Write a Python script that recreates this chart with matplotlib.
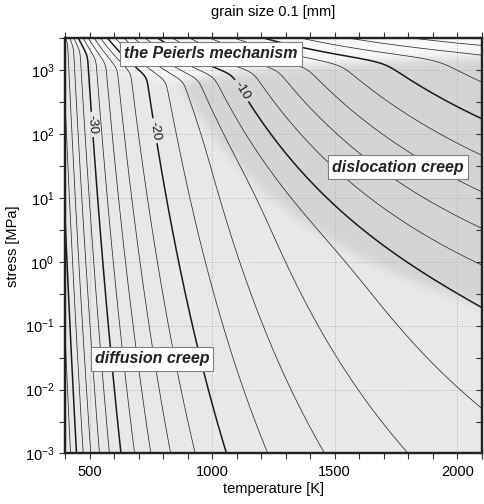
import numpy as np
import matplotlib
matplotlib.use("Agg")
import matplotlib.pyplot as plt
from matplotlib.ticker import FixedLocator, NullFormatter

plt.rcParams.update({
    "font.family": ["Liberation Sans", "DejaVu Sans"],
    "mathtext.fontset": "custom",
    "mathtext.rm": "Liberation Sans",
    "mathtext.it": "Liberation Sans:italic",
    "font.size": 10,
    "contour.negative_linestyle": "solid",
})

# temperature [K] and stress [MPa] range of the map
T_MIN, T_MAX = 400.0, 2100.0
LOGS_MIN, LOGS_MAX = -3.0, 3.5
GRAIN_SIZE_MM = 0.1

# flow laws log10(eps) = logA + n*log10(sigma) - E/(RT ln10)
# strain rate in 1/s, stress in MPa, activation energies in kJ/mol
# (grain size is folded into the diffusion prefactor, low-T plasticity
#  written as a high-exponent power law)
R = 8.314e-3
MECH_LOGA = [-2.14, 5.35, -31.03]     # diffusion, dislocation, Peierls
MECH_N = [1.1, 3.5, 14.0]
MECH_E = [295.0, 530.0, 416.0]

# log10 strain-rate contours, bold every 10
LEVELS = np.arange(-50, 14, 2)
LABELED = [-30, -20, -10]
LABEL_POS = [(512, 10**2.15), (766, 10**2.05), (1113, 10**2.66)]

# grey for the dominant mechanism: diffusion, dislocation, Peierls
SHADES = [0.912, 0.835, 0.972]

REGION_TEXT = ["diffusion creep", "dislocation creep", "the Peierls mechanism"]
REGION_POS = [(754, 10**-1.52), (1758, 10**1.48), (995, 10**3.25)]


def log_rates(T, logs):
    k = 1.0 / (R * T * np.log(10))
    return np.stack([a + n * logs - e * k
                     for a, n, e in zip(MECH_LOGA, MECH_N, MECH_E)])


def blur(a, sigma):
    r = int(3 * sigma)
    kern = np.exp(-0.5 * (np.arange(-r, r + 1) / sigma)**2)
    kern /= kern.sum()
    p = np.pad(a, r, mode="edge")
    p = np.apply_along_axis(lambda v: np.convolve(v, kern, mode="valid"), 0, p)
    p = np.apply_along_axis(lambda v: np.convolve(v, kern, mode="valid"), 1, p)
    return p


T = np.linspace(T_MIN, T_MAX, 700)
logs = np.linspace(LOGS_MIN, LOGS_MAX, 700)
TT, LL = np.meshgrid(T, logs)
rates = log_rates(TT, LL)
top = rates.max(axis=0)
total = top + np.log10(np.sum(10**(rates - top), axis=0))
dominant = np.argmax(rates, axis=0)
shade = blur(np.array(SHADES)[dominant], 8)

fig = plt.figure(figsize=(4.85, 5.04), dpi=100)
rect = [0.1346, 0.1002, 0.8586, 0.8244]

# mechanism shading lives on a plain axes in (T, log stress)
ax_img = fig.add_axes(rect, zorder=0)
ax_img.imshow(np.dstack([shade] * 3), extent=(T_MIN, T_MAX, LOGS_MIN, LOGS_MAX),
              origin="lower", aspect="auto", interpolation="bilinear")
ax_img.set_xlim(T_MIN, T_MAX)
ax_img.set_ylim(LOGS_MIN, LOGS_MAX)
ax_img.axis("off")

ax = fig.add_axes(rect, zorder=1)
ax.patch.set_visible(False)
ax.set_yscale("log")
ax.set_xlim(T_MIN, T_MAX)
ax.set_ylim(10**LOGS_MIN, 10**LOGS_MAX)

thin = [lv for lv in LEVELS if lv % 10 != 0]
bold = [lv for lv in LEVELS if lv % 10 == 0 and lv not in LABELED]
ax.contour(TT, 10**LL, total, levels=thin, colors="#2e2e2e", linewidths=0.55, zorder=2)
ax.contour(TT, 10**LL, total, levels=bold, colors="#1a1a1a", linewidths=1.1, zorder=2)
cs = ax.contour(TT, 10**LL, total, levels=LABELED, colors="#1a1a1a",
                linewidths=1.1, zorder=2)
ax.clabel(cs, manual=LABEL_POS, inline=True, fmt="%d", fontsize=9.5, inline_spacing=3)

for txt, (x, y) in zip(REGION_TEXT, REGION_POS):
    ax.text(x, y, txt, ha="center", va="center", fontsize=11.5,
            weight="bold", style="italic", color="#222222", zorder=5,
            bbox=dict(boxstyle="square,pad=0.26", fc="white", ec="#808080", lw=0.8))

ax.grid(True, which="major", ls=":", color="#b5b5b5", lw=0.7)
ax.xaxis.set_major_locator(FixedLocator([500, 1000, 1500, 2000]))
ax.xaxis.set_minor_locator(FixedLocator(np.arange(400, 2101, 100)))
ax.yaxis.set_major_locator(FixedLocator(10.0**np.arange(-3, 4)))
ax.yaxis.set_minor_locator(FixedLocator(10.0**np.arange(-2.5, 3.6, 1.0)))
ax.yaxis.set_minor_formatter(NullFormatter())
ax.set_yticklabels([r"$\mathregular{10^{%d}}$" % e for e in range(-3, 4)])

ax.tick_params(which="both", direction="out", length=4.5, width=0.8,
               top=True, right=False, labelsize=10.5, color="#333333")
ax.tick_params(axis="x", pad=4)
for sp in ax.spines.values():
    sp.set_linewidth(1.6)
    sp.set_color("#222222")

# short inward ticks along the right frame
ax_r = ax.twinx()
ax_r.set_yscale("log")
ax_r.set_ylim(10**LOGS_MIN, 10**LOGS_MAX)
ax_r.yaxis.set_major_locator(FixedLocator(10.0**np.arange(-3, 4)))
ax_r.yaxis.set_minor_locator(FixedLocator(10.0**np.arange(-2.5, 3.6, 1.0)))
ax_r.yaxis.set_major_formatter(NullFormatter())
ax_r.yaxis.set_minor_formatter(NullFormatter())
ax_r.tick_params(which="both", direction="in", length=4, width=0.8, color="#333333")
for sp in ax_r.spines.values():
    sp.set_linewidth(1.6)
    sp.set_color("#222222")

ax.set_xlabel("temperature [K]", fontsize=10.5, labelpad=2)
ax.set_ylabel("stress [MPa]", fontsize=10.5, labelpad=3)
ax.set_title("grain size %.1f [mm]" % GRAIN_SIZE_MM, fontsize=10.5, pad=16)

fig.savefig("out.png", dpi=100)
